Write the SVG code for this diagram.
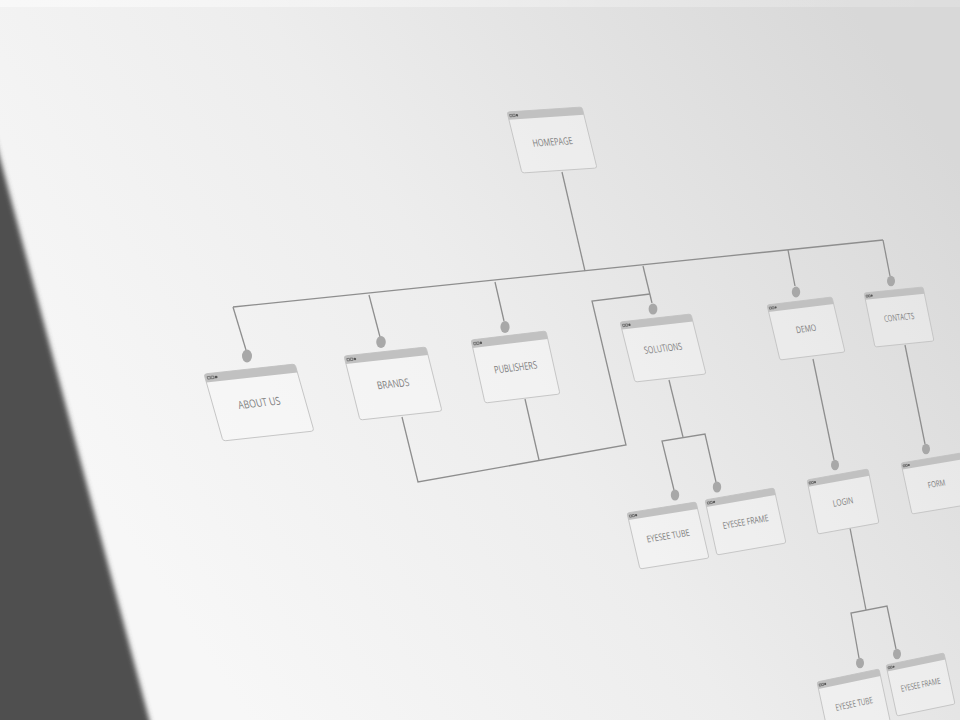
<svg xmlns="http://www.w3.org/2000/svg" xmlns:xlink="http://www.w3.org/1999/xlink" width="960" height="720" viewBox="0 0 960 720">
<style>
.body{fill:#ffffff;fill-opacity:0.3;stroke:#c6c6c6;stroke-width:1;vector-effect:non-scaling-stroke}
.bar{fill:#c1c1c1}
.ic{fill:none;stroke:#6a6a6a;stroke-width:0.8;vector-effect:non-scaling-stroke}
.icd{fill:#555}
.lbl{font-family:"Open Sans","Liberation Sans",sans-serif;font-size:13px;fill:#7e7e7e;text-anchor:middle}
.wire{fill:none;stroke:#8e8e8e;stroke-width:1.3;stroke-linejoin:miter}
.dot{fill:#a8a8a8}
</style>
<defs>
<linearGradient id="bg" gradientUnits="userSpaceOnUse" x1="200" y1="650" x2="950" y2="150">
<stop offset="0" stop-color="#f7f7f7"/>
<stop offset="0.45" stop-color="#ededed"/>
<stop offset="1" stop-color="#d8d8d8"/>
</linearGradient>
<linearGradient id="topband" x1="0" y1="0" x2="1" y2="0">
<stop offset="0" stop-color="#ffffff" stop-opacity="0.5"/>
<stop offset="1" stop-color="#ffffff" stop-opacity="0.15"/>
</linearGradient>
<filter id="soft" x="-0.2" y="-0.2" width="1.4" height="1.4">
<feGaussianBlur stdDeviation="2.5"/>
</filter>
<g id="card">
<rect class="body" x="0" y="0" width="100" height="80" rx="3"/>
<path class="bar" d="M0,3 a3,3 0 0 1 3,-3 h94 a3,3 0 0 1 3,3 v7 h-100z"/>
<rect class="ic" x="2.5" y="3.5" width="3" height="3"/>
<rect class="ic" x="6.5" y="3.5" width="3" height="3"/>
<circle class="icd" cx="12" cy="5" r="1.6"/>
</g>
</defs>

<rect x="0" y="0" width="960" height="720" fill="url(#bg)"/>
<rect x="0" y="0" width="960" height="7" fill="url(#topband)"/>
<polygon points="-42,0 160,760 -60,760" fill="#4f4f4f" filter="url(#soft)"/>

<g id="connectors">
<path class="wire" d="M562,172 L585,271"/>
<path class="wire" d="M233,307 L883,240"/>
<path class="wire" d="M233,307 L246,350"/>
<path class="wire" d="M369,295 L380,337"/>
<path class="wire" d="M495,282 L504,321"/>
<path class="wire" d="M643,266 L652,303"/>
<path class="wire" d="M788,250 L795,286"/>
<path class="wire" d="M883,240 L890,276"/>
<path class="wire" d="M402,417 L418,482 L626,445 L592,301 L650,294"/>
<path class="wire" d="M525,399 L539,460"/>
<path class="wire" d="M669,380 L683,437"/>
<path class="wire" d="M674,490 L662,441 L705,434 L716,482"/>
<path class="wire" d="M813,359 L834,460"/>
<path class="wire" d="M905,345 L925,444"/>
<path class="wire" d="M850,528 L866,610"/>
<path class="wire" d="M859,658 L851,613 L887,606 L896,649"/>
<ellipse class="dot" cx="247" cy="356" rx="5" ry="6.5"/>
<ellipse class="dot" cx="381" cy="342" rx="4.8" ry="6"/>
<ellipse class="dot" cx="505" cy="327" rx="4.6" ry="6"/>
<ellipse class="dot" cx="653" cy="309" rx="4.4" ry="5.6"/>
<ellipse class="dot" cx="796" cy="292" rx="4.2" ry="5.4"/>
<ellipse class="dot" cx="891" cy="281" rx="4" ry="5.2"/>
<ellipse class="dot" cx="675" cy="495" rx="4.2" ry="5.5"/>
<ellipse class="dot" cx="717" cy="487" rx="4.2" ry="5.5"/>
<ellipse class="dot" cx="835" cy="465" rx="4" ry="5.3"/>
<ellipse class="dot" cx="926" cy="449" rx="4" ry="5.2"/>
<ellipse class="dot" cx="860" cy="663" rx="4" ry="5.3"/>
<ellipse class="dot" cx="897" cy="654" rx="4" ry="5.2"/>
</g>

<g id="homepage" transform="matrix(0.75,-0.05,0.1875,0.7625,507,112)">
<use xlink:href="#card"/>
<text class="lbl" x="50" y="47" textLength="53" lengthAdjust="spacingAndGlyphs">HOMEPAGE</text>
</g>
<g id="about-us" transform="matrix(0.91,-0.10,0.2375,0.8375,204,374)">
<use xlink:href="#card"/>
<text class="lbl" x="50" y="45" textLength="46" lengthAdjust="spacingAndGlyphs">ABOUT US</text>
</g>
<g id="brands" transform="matrix(0.82,-0.09,0.2,0.8,344,356)">
<use xlink:href="#card"/>
<text class="lbl" x="50" y="45" textLength="39" lengthAdjust="spacingAndGlyphs">BRANDS</text>
</g>
<g id="publishers" transform="matrix(0.75,-0.09,0.175,0.7875,471,340)">
<use xlink:href="#card"/>
<text class="lbl" x="50" y="45" textLength="57" lengthAdjust="spacingAndGlyphs">PUBLISHERS</text>
</g>
<g id="solutions" transform="matrix(0.71,-0.08,0.1875,0.75,620,322)">
<use xlink:href="#card"/>
<text class="lbl" x="50" y="45" textLength="53" lengthAdjust="spacingAndGlyphs">SOLUTIONS</text>
</g>
<g id="demo" transform="matrix(0.65,-0.08,0.1625,0.6875,767,305)">
<use xlink:href="#card"/>
<text class="lbl" x="50" y="45" textLength="31" lengthAdjust="spacingAndGlyphs">DEMO</text>
</g>
<g id="contacts" transform="matrix(0.59,-0.06,0.1375,0.675,864,293)">
<use xlink:href="#card"/>
<text class="lbl" x="50" y="45" textLength="51" lengthAdjust="spacingAndGlyphs">CONTACTS</text>
</g>
<g id="form" transform="matrix(0.60,-0.10,0.1375,0.6375,901,463)">
<use xlink:href="#card"/>
<text class="lbl" x="50" y="45" textLength="29" lengthAdjust="spacingAndGlyphs">FORM</text>
</g>
<g id="login" transform="matrix(0.61,-0.11,0.1375,0.675,807,480)">
<use xlink:href="#card"/>
<text class="lbl" x="50" y="45" textLength="33" lengthAdjust="spacingAndGlyphs">LOGIN</text>
</g>
<g id="eyesee-tube-1" transform="matrix(0.69,-0.11,0.1625,0.7,627,513)">
<use xlink:href="#card"/>
<text class="lbl" x="50" y="45" textLength="62" lengthAdjust="spacingAndGlyphs">EYESEE TUBE</text>
</g>
<g id="eyesee-frame-1" transform="matrix(0.69,-0.12,0.15,0.6875,705,500)">
<use xlink:href="#card"/>
<text class="lbl" x="50" y="45" textLength="66" lengthAdjust="spacingAndGlyphs">EYESEE FRAME</text>
</g>
<g id="eyesee-tube-2" transform="matrix(0.62,-0.13,0.15,0.7,817,682)">
<use xlink:href="#card"/>
<text class="lbl" x="50" y="45" textLength="60" lengthAdjust="spacingAndGlyphs">EYESEE TUBE</text>
</g>
<g id="eyesee-frame-2" transform="matrix(0.58,-0.12,0.1375,0.6375,886,665)">
<use xlink:href="#card"/>
<text class="lbl" x="50" y="45" textLength="68" lengthAdjust="spacingAndGlyphs">EYESEE FRAME</text>
</g>
</svg>
